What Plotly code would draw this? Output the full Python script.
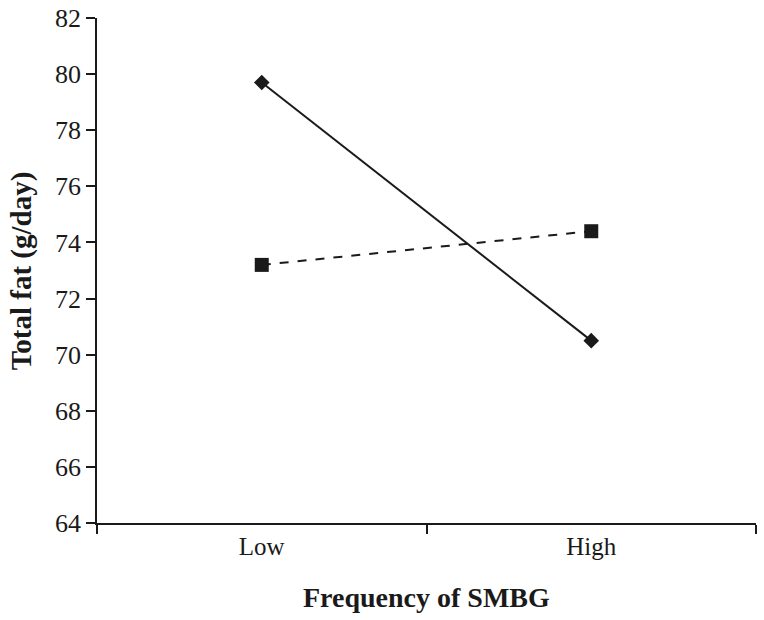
import plotly.graph_objects as go

SERIF = "Liberation Serif, Times New Roman, serif"
INK = "#1a1a1a"

categories = ["Low", "High"]
solid_vals = [79.7, 70.5]
dashed_vals = [73.2, 74.4]
y_ticks = [64, 66, 68, 70, 72, 74, 76, 78, 80, 82]

fig = go.Figure()
fig.add_trace(go.Scatter(
    x=categories, y=solid_vals,
    mode="lines+markers",
    line=dict(color=INK, width=2),
    marker=dict(symbol="diamond", size=12, color=INK),
    showlegend=False,
))
fig.add_trace(go.Scatter(
    x=categories, y=dashed_vals,
    mode="lines+markers",
    line=dict(color=INK, width=2, dash="dash"),
    marker=dict(symbol="square", size=14, color=INK),
    showlegend=False,
))

fig.update_layout(
    width=764, height=620,
    paper_bgcolor="white", plot_bgcolor="white",
    font=dict(family=SERIF, color=INK, size=26),
    margin=dict(l=97, r=8, t=18, b=97),
    annotations=[
        dict(text="<b>Total fat (g/day)</b>", textangle=-90,
             xref="paper", yref="paper", x=-0.114, y=0.5,
             xanchor="center", yanchor="middle", showarrow=False,
             font=dict(size=29)),
        dict(text="<b>Frequency of SMBG</b>",
             xref="paper", yref="paper", x=0.5, y=-0.147,
             xanchor="center", yanchor="middle", showarrow=False,
             font=dict(size=28)),
    ],
)
fig.update_xaxes(
    type="category", range=[-0.5, 1.5], automargin=False,
    tickson="boundaries", ticks="outside", ticklen=9, tickwidth=1.5, tickcolor=INK,
    showline=True, linecolor=INK, linewidth=1.5,
    showgrid=False, zeroline=False,
    tickfont=dict(size=25),
)
fig.update_yaxes(
    range=[64, 82], tickvals=y_ticks, automargin=False,
    ticks="outside", ticklen=9, tickwidth=1.5, tickcolor=INK,
    showline=True, linecolor=INK, linewidth=1.5,
    showgrid=False, zeroline=False,
    tickfont=dict(size=26), ticklabeloverflow="allow",
)

# drop the browser's default 8px body margin so the figure fills the window
fig.write_html(
    "out.html",
    config={"displayModeBar": False},
    post_script="document.body.style.margin='0';",
)
